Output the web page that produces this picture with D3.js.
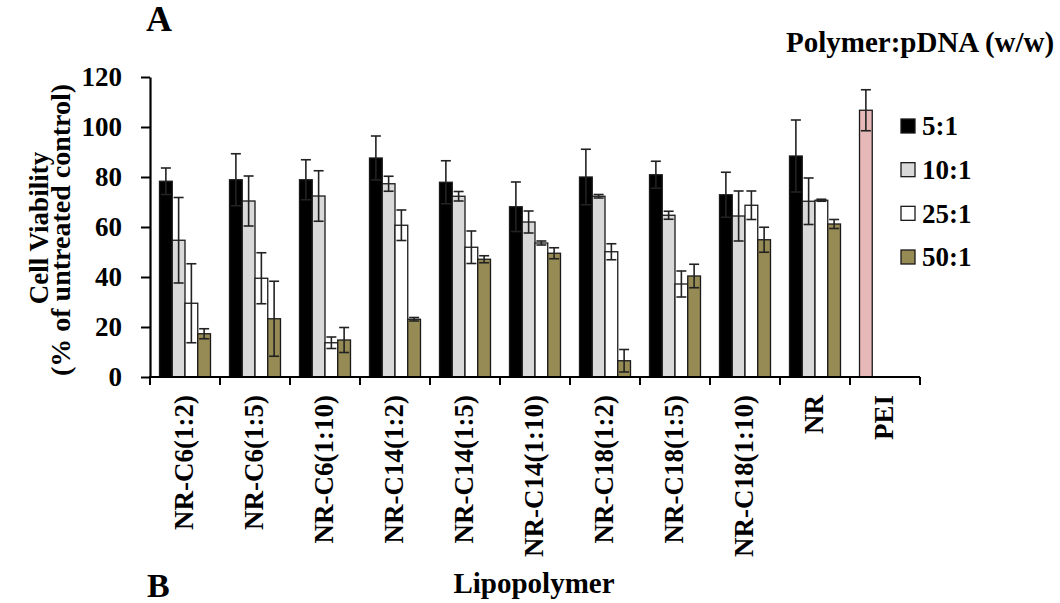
<!DOCTYPE html>
<html>
<head>
<meta charset="utf-8">
<script src="https://cdn.jsdelivr.net/npm/d3@7"></script>
<style>
  html, body { margin: 0; padding: 0; background: #fff; }
  svg text { font-family: "Liberation Serif", "Times New Roman", serif; font-weight: bold; fill: #000; }
</style>
</head>
<body>
<svg id="chart" width="1060" height="603"></svg>
<script>
// Lipopolymer formulations on the x axis
const categories = ["NR-C6(1:2)", "NR-C6(1:5)", "NR-C6(1:10)", "NR-C14(1:2)", "NR-C14(1:5)",
                    "NR-C14(1:10)", "NR-C18(1:2)", "NR-C18(1:5)", "NR-C18(1:10)", "NR", "PEI"];
// Polymer:pDNA weight ratios
const ratios = ["5:1", "10:1", "25:1", "50:1"];

// Cell viability (% of untreated control), mean and error per ratio
const v5  = [78.3, 78.9, 78.9, 87.6, 77.9, 68.1, 80.0, 80.9, 72.9, 88.4];
const e5  = [5.3, 10.4, 8.0, 8.8, 8.6, 9.9, 11.1, 5.4, 9.0, 14.4];
const v10 = [54.7, 70.4, 72.4, 77.3, 72.3, 62.0, 72.3, 64.7, 64.4, 70.3];
const e10 = [17.1, 10.0, 10.1, 3.0, 1.9, 4.4, 0.7, 1.6, 10.0, 9.3];
const v25 = [29.5, 39.5, 13.7, 60.7, 51.9, 53.6, 50.1, 37.2, 68.7, 70.7];
const e25 = [15.8, 10.2, 2.3, 6.1, 6.5, 0.8, 3.2, 5.2, 5.7, 0.4];
const v50 = [17.3, 23.3, 14.8, 23.1, 47.1, 49.5, 6.5, 40.4, 54.9, 61.2];
const e50 = [2.0, 15.0, 5.0, 0.7, 1.4, 2.2, 4.5, 4.7, 5.0, 1.8];
// PEI reference control
const peiValue = [106.7];
const peiError = [8.2];

const yTicks = [0, 20, 40, 60, 80, 100, 120];

const fills = { "5:1": "#000000", "10:1": "#d9d9d9", "25:1": "#ffffff", "50:1": "#968a55" };
const peiFill = "#e6b8b7";

const svg = d3.select("#chart");

const x0 = d3.scaleBand().domain(categories).range([150, 920]).paddingInner(0).paddingOuter(0);
const x1 = d3.scaleBand().domain(ratios).range([0, x0.bandwidth()]).paddingInner(0).paddingOuter(0.745);
const y = d3.scaleLinear().domain([0, 120]).range([377, 77]);

// Build bar records from the series arrays
const seriesVals = [v5, v10, v25, v50];
const seriesErr = [e5, e10, e25, e50];
const bars = [];
ratios.forEach((r, i) => {
  seriesVals[i].forEach((v, j) => {
    bars.push({ cat: categories[j], ratio: r, value: v, err: seriesErr[i][j], fill: fills[r] });
  });
});
bars.push({ cat: "PEI", ratio: "5:1", value: peiValue[0], err: peiError[0], fill: peiFill });

const plot = svg.append("g");

plot.selectAll("rect.bar").data(bars).enter().append("rect")
  .attr("class", "bar")
  .attr("x", d => x0(d.cat) + x1(d.ratio))
  .attr("y", d => y(d.value))
  .attr("width", x1.bandwidth())
  .attr("height", d => y(0) - y(d.value))
  .attr("fill", d => d.fill)
  .attr("stroke", "#1a1a1a")
  .attr("stroke-width", 1.3);

// Error bars
const eb = plot.selectAll("g.err").data(bars).enter().append("g")
  .attr("class", "err")
  .attr("stroke", "#222")
  .attr("stroke-width", 1.6);
const cx = d => x0(d.cat) + x1(d.ratio) + x1.bandwidth() / 2;
eb.append("line")
  .attr("x1", cx).attr("x2", cx)
  .attr("y1", d => y(d.value + d.err)).attr("y2", d => y(d.value - d.err));
eb.append("line")
  .attr("x1", d => cx(d) - 5).attr("x2", d => cx(d) + 5)
  .attr("y1", d => y(d.value + d.err)).attr("y2", d => y(d.value + d.err));
eb.append("line")
  .attr("x1", d => cx(d) - 5).attr("x2", d => cx(d) + 5)
  .attr("y1", d => y(d.value - d.err)).attr("y2", d => y(d.value - d.err));

// Y axis
const yAxis = svg.append("g")
  .attr("transform", "translate(150,0)")
  .call(d3.axisLeft(y).tickValues(yTicks).tickSize(9).tickPadding(19).tickSizeOuter(0));
yAxis.select(".domain").attr("stroke", "#000").attr("stroke-width", 2.2);
yAxis.selectAll(".tick line").attr("stroke", "#000").attr("stroke-width", 2);
yAxis.selectAll(".tick text").attr("font-size", 27).attr("fill", "#000")
  .style("font-family", "'Liberation Serif', serif").style("font-weight", "bold");

// X axis: ticks at category boundaries
const xAxis = svg.append("g").attr("transform", "translate(0,377)");
xAxis.append("line").attr("x1", 149).attr("x2", 920).attr("y1", 0).attr("y2", 0)
  .attr("stroke", "#000").attr("stroke-width", 2.2);
const bounds = categories.map(c => x0(c)).concat([x0.range()[1]]);
xAxis.selectAll("line.tk").data(bounds).enter().append("line")
  .attr("class", "tk")
  .attr("x1", d => d).attr("x2", d => d).attr("y1", 0).attr("y2", 8)
  .attr("stroke", "#000").attr("stroke-width", 2);
xAxis.selectAll("text.cat").data(categories).enter().append("text")
  .attr("class", "cat")
  .attr("transform", d => `translate(${x0(d) + x0.bandwidth() / 2},18) rotate(-90)`)
  .attr("text-anchor", "end")
  .attr("dy", "0.3em")
  .attr("font-size", 27)
  .text(d => d);

// Axis titles
svg.append("text")
  .attr("transform", "translate(48,228) rotate(-90)")
  .attr("text-anchor", "middle").attr("font-size", 27)
  .text("Cell Viability");
svg.append("text")
  .attr("transform", "translate(69.5,230) rotate(-90)")
  .attr("text-anchor", "middle").attr("font-size", 28)
  .text("(% of untreated control)");
svg.append("text")
  .attr("x", 534).attr("y", 593)
  .attr("text-anchor", "middle").attr("font-size", 29)
  .text("Lipopolymer");

// Panel letters
svg.append("text").attr("x", 146).attr("y", 31).attr("font-size", 36).text("A");
svg.append("text").attr("x", 147).attr("y", 597).attr("font-size", 34).text("B");

// Legend
svg.append("text").attr("x", 786).attr("y", 52).attr("font-size", 29).text("Polymer:pDNA (w/w)");
const leg = svg.append("g");
const legY = d3.scalePoint().domain(ratios).range([126, 257]);
leg.selectAll("rect").data(ratios).enter().append("rect")
  .attr("x", 901).attr("y", d => legY(d) - 7)
  .attr("width", 14).attr("height", 14)
  .attr("fill", d => fills[d]).attr("stroke", "#1a1a1a").attr("stroke-width", 1.3);
leg.selectAll("text").data(ratios).enter().append("text")
  .attr("x", 922).attr("y", d => legY(d)).attr("dy", "0.35em")
  .attr("font-size", 27)
  .text(d => d);
</script>
</body>
</html>
